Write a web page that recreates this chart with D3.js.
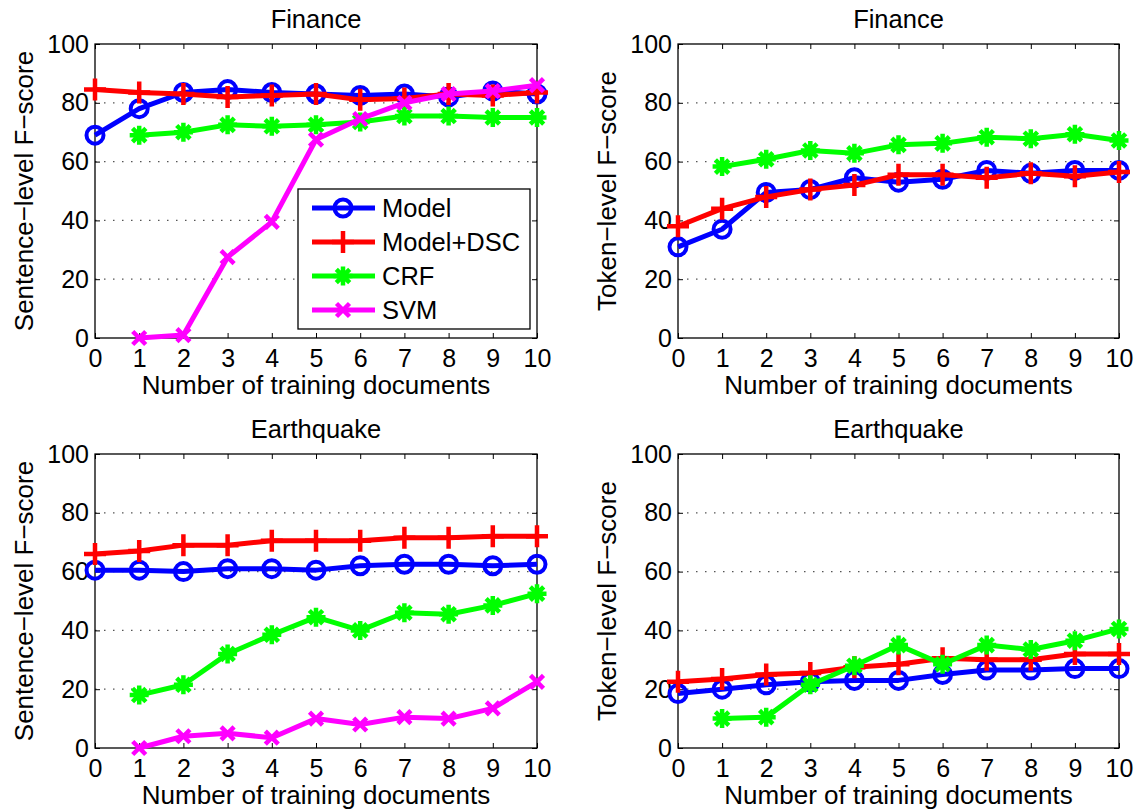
<!DOCTYPE html>
<html>
<head>
<meta charset="utf-8">
<script src="https://cdnjs.cloudflare.com/ajax/libs/d3/7.8.5/d3.min.js"></script>
<style>
  html, body { margin: 0; padding: 0; background: #fff; }
  svg text { font-family: "Liberation Sans", Arial, Helvetica, sans-serif; fill: #000; }
</style>
</head>
<body>
<svg id="chart" width="1140" height="811"></svg>
<script>
// ─── DATA ───
const docs = [0, 1, 2, 3, 4, 5, 6, 7, 8, 9, 10];
const yTicks = [0, 20, 40, 60, 80, 100];
const seriesNames = ["Model", "Model+DSC", "CRF", "SVM"];

// Finance, sentence level
const finSentModel = [69, 78, 83.5, 84.5, 83.5, 83, 82.5, 83, 82, 84, 83];
const finSentDSC   = [84.5, 83.5, 83, 82, 82.5, 83, 81, 81.5, 83, 82.5, 83.5];
const finSentCRF   = [null, 69, 70, 72.5, 72, 72.5, 73.5, 75.5, 75.5, 75, 75];
const finSentSVM   = [null, 0, 1, 27.5, 39.5, 67.5, 74.5, 80, 83, 84, 86];

// Finance, token level
const finTokModel = [31, 37, 49.5, 50.5, 54.5, 53, 54, 57, 56, 57, 57];
const finTokDSC   = [38, 44, 48, 50.5, 52, 55.5, 55.5, 54.5, 56, 55, 56.5];
const finTokCRF   = [null, 58.3, 60.8, 63.8, 62.8, 65.7, 66.2, 68.3, 67.8, 69.3, 67.2];

// Earthquake, sentence level
const eqSentModel = [60.5, 60.5, 60, 61, 61, 60.5, 62, 62.5, 62.5, 62, 62.5];
const eqSentDSC   = [66, 67, 69, 69, 70.5, 70.5, 70.5, 71.5, 71.5, 72, 72];
const eqSentCRF   = [null, 18, 21.5, 32, 38.5, 44.5, 40, 46, 45.5, 48.5, 52.5];
const eqSentSVM   = [null, 0, 4, 5, 3.5, 10, 8, 10.5, 10, 13.5, 22.5];

// Earthquake, token level
const eqTokModel = [18.5, 20, 21.5, 22.5, 23, 23, 25, 26.5, 26.5, 27, 27];
const eqTokDSC   = [22.5, 23.5, 25, 25.5, 27.5, 28.5, 30.5, 30, 30, 32, 32];
const eqTokCRF   = [null, 10, 10.5, 21.5, 28, 35, 28.5, 35, 33.5, 36.5, 40.5];

// ─── STYLES ───
const colors = { "Model": "#0000ff", "Model+DSC": "#ff0000", "CRF": "#00ff00", "SVM": "#ff00ff" };
const markerPaths = {
  "Model+DSC": "M-11,0H11M0,-11V11",
  "CRF": "M-9.5,0H9.5M0,-9.5V9.5M-6.7,-6.7L6.7,6.7M-6.7,6.7L6.7,-6.7",
  "SVM": "M-6.5,-6.5L6.5,6.5M-6.5,6.5L6.5,-6.5"
};

const svg = d3.select("#chart");
svg.append("rect").attr("width", 1140).attr("height", 811).attr("fill", "#fff");

function drawMarker(g, name, cx, cy) {
  if (name === "Model") {
    g.append("circle").attr("cx", cx).attr("cy", cy).attr("r", 8.5)
      .attr("fill", "none").attr("stroke", colors[name]).attr("stroke-width", 4);
  } else {
    g.append("path").attr("d", markerPaths[name])
      .attr("transform", `translate(${cx},${cy})`)
      .attr("fill", "none").attr("stroke", colors[name]).attr("stroke-width", 4.5);
  }
}

function drawPanel(cfg) {
  const { left, top, width, height, title, ylabel, series } = cfg;
  const g = svg.append("g");

  const x = d3.scaleLinear().domain([0, 10]).range([left, left + width]);
  const y = d3.scaleLinear().domain([0, 100]).range([top + height, top]);

  // grid
  g.selectAll(".grid")
    .data(yTicks.filter(t => t > 0 && t < 100))
    .enter().append("line")
    .attr("x1", left).attr("x2", left + width)
    .attr("y1", d => y(d)).attr("y2", d => y(d))
    .attr("stroke", "#555").attr("stroke-width", 1.2)
    .attr("stroke-dasharray", "1.5,7.5");

  // axes (inner ticks on all sides)
  const tickStyle = sel => {
    sel.select(".domain").remove();
    sel.selectAll(".tick line").attr("stroke", "#000");
    sel.selectAll("text").attr("font-size", "25px").attr("fill", "#000");
  };
  g.append("g").attr("transform", `translate(0,${top + height})`)
    .call(d3.axisBottom(x).tickValues(docs).tickSizeInner(-5).tickSizeOuter(0).tickPadding(11))
    .call(tickStyle);
  g.append("g").attr("transform", `translate(0,${top})`)
    .call(d3.axisTop(x).tickValues(docs).tickSizeInner(-5).tickSizeOuter(0).tickFormat(""))
    .call(tickStyle);
  g.append("g").attr("transform", `translate(${left},0)`)
    .call(d3.axisLeft(y).tickValues(yTicks).tickSizeInner(-5).tickSizeOuter(0).tickPadding(6))
    .call(tickStyle);
  g.append("g").attr("transform", `translate(${left + width},0)`)
    .call(d3.axisRight(y).tickValues(yTicks).tickSizeInner(-5).tickSizeOuter(0).tickFormat(""))
    .call(tickStyle);

  g.append("rect").attr("x", left).attr("y", top).attr("width", width).attr("height", height)
    .attr("fill", "none").attr("stroke", "#000").attr("stroke-width", 1.3);

  // series
  const line = d3.line()
    .defined(d => d.v !== null)
    .x(d => x(d.x)).y(d => y(d.v));
  series.forEach(s => {
    const pts = docs.map((d, i) => ({ x: d, v: s.values[i] }));
    g.append("path").datum(pts)
      .attr("d", line).attr("fill", "none")
      .attr("stroke", colors[s.name]).attr("stroke-width", 5)
      .attr("stroke-linejoin", "round");
    pts.filter(p => p.v !== null).forEach(p => drawMarker(g, s.name, x(p.x), y(p.v)));
  });

  // texts
  g.append("text").attr("x", left + width / 2).attr("y", top - 16)
    .attr("text-anchor", "middle").attr("font-size", "25.5px").text(title);
  g.append("text").attr("x", left + width / 2).attr("y", top + height + 56)
    .attr("text-anchor", "middle").attr("font-size", "26px").text("Number of training documents");
  g.append("text")
    .attr("transform", `translate(${left - 62},${top + height / 2}) rotate(-90)`)
    .attr("text-anchor", "middle").attr("font-size", "26px").text(ylabel);

  return { x, y };
}

drawPanel({ left: 95, top: 44, width: 442, height: 294, title: "Finance", ylabel: "Sentence\u2212level F\u2212score",
  series: [
    { name: "Model", values: finSentModel }, { name: "Model+DSC", values: finSentDSC },
    { name: "CRF", values: finSentCRF }, { name: "SVM", values: finSentSVM }
  ] });
drawPanel({ left: 678, top: 44, width: 441, height: 294, title: "Finance", ylabel: "Token\u2212level F\u2212score",
  series: [
    { name: "Model", values: finTokModel }, { name: "Model+DSC", values: finTokDSC },
    { name: "CRF", values: finTokCRF }
  ] });
drawPanel({ left: 95, top: 454, width: 442, height: 294, title: "Earthquake", ylabel: "Sentence\u2212level F\u2212score",
  series: [
    { name: "Model", values: eqSentModel }, { name: "Model+DSC", values: eqSentDSC },
    { name: "CRF", values: eqSentCRF }, { name: "SVM", values: eqSentSVM }
  ] });
drawPanel({ left: 678, top: 454, width: 441, height: 294, title: "Earthquake", ylabel: "Token\u2212level F\u2212score",
  series: [
    { name: "Model", values: eqTokModel }, { name: "Model+DSC", values: eqTokDSC },
    { name: "CRF", values: eqTokCRF }
  ] });

// ─── LEGEND (first panel) ───
const legend = svg.append("g");
legend.append("rect").attr("x", 298).attr("y", 189).attr("width", 232).attr("height", 140)
  .attr("fill", "#fff").attr("stroke", "#000").attr("stroke-width", 1.3);
const rowY = d3.scalePoint().domain(seriesNames).range([208, 310]);
seriesNames.forEach(name => {
  const cy = rowY(name);
  legend.append("line").attr("x1", 312).attr("x2", 375).attr("y1", cy).attr("y2", cy)
    .attr("stroke", colors[name]).attr("stroke-width", 5);
  drawMarker(legend, name, 343, cy);
  legend.append("text").attr("x", 382).attr("y", cy).attr("dy", "0.36em")
    .attr("font-size", "25.5px").text(name);
});
</script>
</body>
</html>
